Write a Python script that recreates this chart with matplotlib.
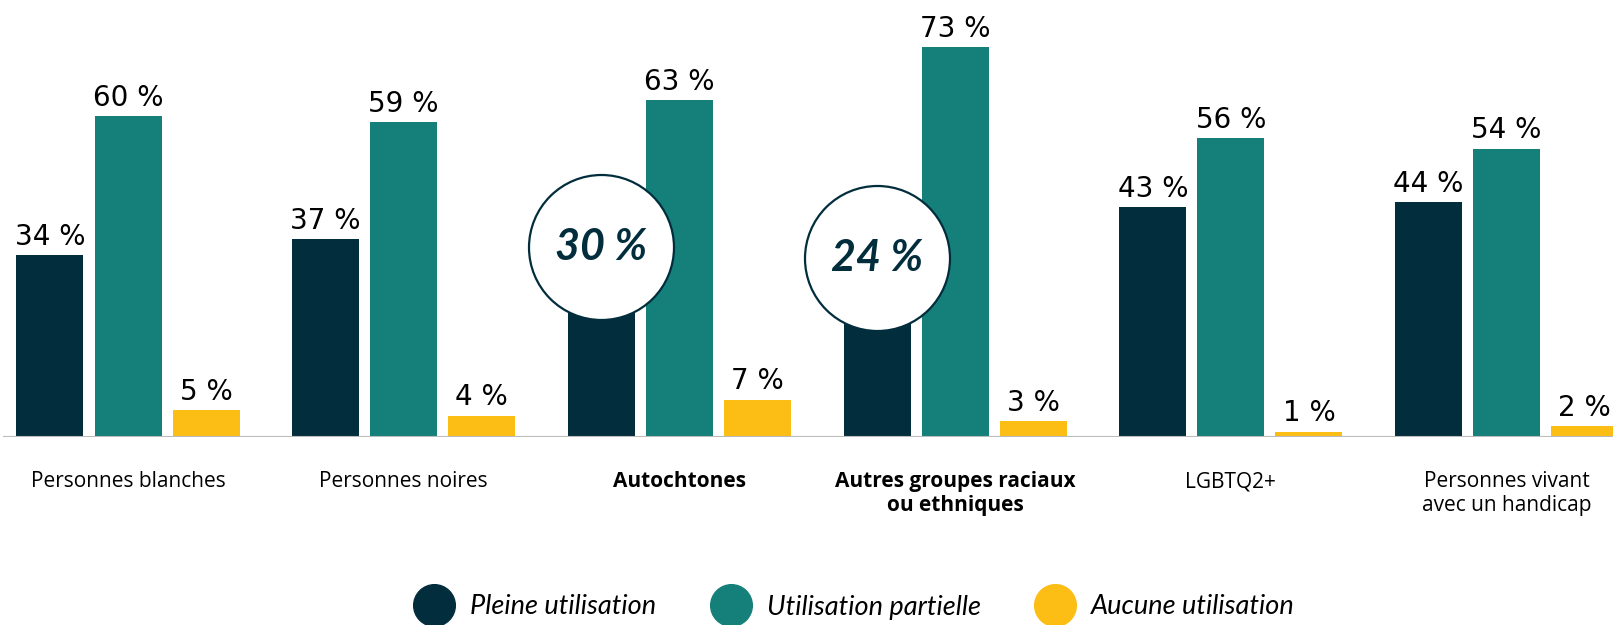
import matplotlib.pyplot as plt
import numpy as np
from matplotlib.lines import Line2D

categories = ["Personnes blanches", "Personnes noires", "Autochtones",
              "Autres groupes raciaux\nou ethniques", "LGBTQ2+",
              "Personnes vivant\navec un handicap"]
pleine = [34, 37, 30, 24, 43, 44]
partielle = [60, 59, 63, 73, 56, 54]
aucune = [5, 4, 7, 3, 1, 2]
series_names = ["Pleine utilisation", "Utilisation partielle", "Aucune utilisation"]
bold_cats = [2, 3]          # categories highlighted with a circle
circle_y = [35.6, 33.5]     # where the circles sit (data units)

navy = '#022d3c'
teal = '#15807a'
yellow = '#fcbe14'
colors = [navy, teal, yellow]

plt.rcParams['font.family'] = ['Open Sans', 'DejaVu Sans']

fig = plt.figure(figsize=(16.13, 6.25), dpi=100)
ax = fig.add_axes([3/1613, 188/625, 1610/1613, 437/625])
ax.set_xlim(-0.4534, 5.386)
ax.set_ylim(0, 81.8)

x = np.arange(len(categories))
step = 0.283
width = 0.243
for k, vals in enumerate([pleine, partielle, aucune]):
    xs = x + (k - 1) * step
    ax.bar(xs, vals, width=width, color=colors[k], zorder=2)
    for i, (xi, v) in enumerate(zip(xs, vals)):
        if k == 0 and i in bold_cats:
            continue  # value is shown in the circle instead
        ax.annotate(f"{v} %", (xi, v), xytext=(0, 3), textcoords='offset points',
                    ha='center', va='bottom', fontsize=20, color='black',
                    family='DejaVu Sans', annotation_clip=False)

for i, cat in enumerate(categories):
    ax.text(x[i], -6.4, cat, ha='center', va='top', fontsize=15,
            fontweight='bold' if i in bold_cats else 'normal',
            linespacing=1.15, clip_on=False)

for i, cy in zip(bold_cats, circle_y):
    cx = x[i] - step
    ax.scatter([cx], [cy], s=10900, facecolor='white', edgecolor=navy,
               linewidth=1.6, zorder=5, clip_on=False)
    ax.text(cx, cy, f"{pleine[i]} %", ha='center', va='center', fontsize=31,
            family='Lato', fontweight='bold', fontstyle='italic', color=navy, zorder=6)

ax.axhline(0, color='#bbbbbb', lw=1.5, zorder=3)
for s in ax.spines.values():
    s.set_visible(False)
ax.set_xticks([])
ax.set_yticks([])

handles = [Line2D([], [], marker='o', ls='', markersize=30, color=c) for c in colors]
fig.legend(handles, series_names, loc='center', bbox_to_anchor=(851/1613, 18/625),
           ncol=3, frameon=False, handletextpad=0.33, columnspacing=1.75,
           prop={'family': 'Lato', 'style': 'italic', 'size': 19.5})

fig.savefig('out.png', dpi=100)
